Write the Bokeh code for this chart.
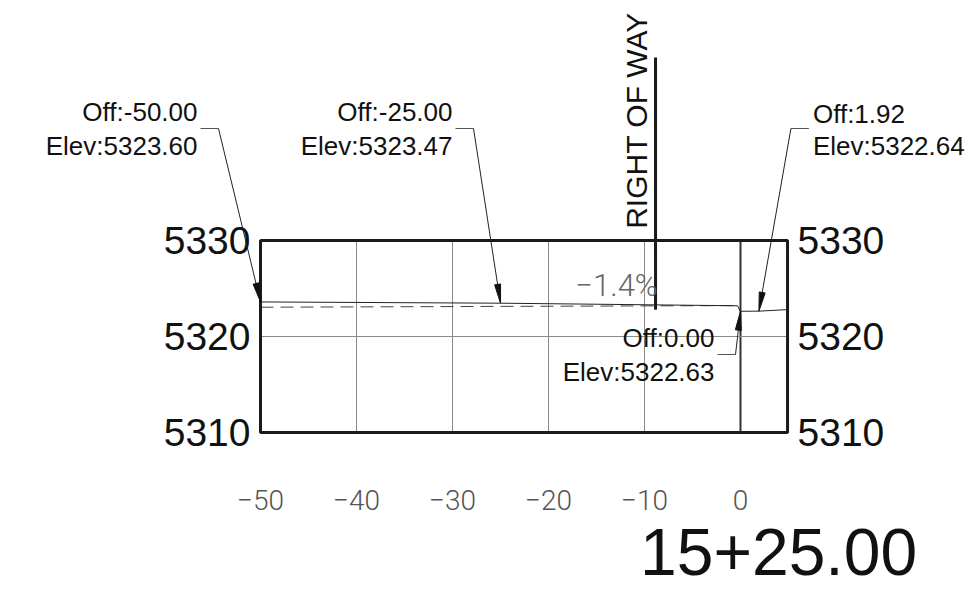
import math
from bokeh.plotting import figure
from bokeh.models import Range1d
from bokeh.embed import file_html
from bokeh.resources import INLINE
from bokeh.core.properties import value

# ---------------- data ----------------
x_ticks = [-50, -40, -30, -20, -10, 0]
x_tick_labels = ["\u221250", "\u221240", "\u221230", "\u221220", "\u221210", "0"]
y_ticks = [5310, 5320, 5330]
y_tick_labels = ["5310", "5320", "5330"]

ground_off = [-50.0, -25.0, -0.3, 0.0, 1.92, 4.9]
ground_elev = [5323.60, 5323.47, 5323.20, 5322.63, 5322.64, 5322.80]

design_off = [-50.0, -0.5, 0.0]
design_elev = [5323.05, 5323.22, 5322.63]

pt_off = [-50.00, -25.00, 1.92, 0.00]
pt_elev = [5323.60, 5323.47, 5322.64, 5322.63]
pt_off_text = ["Off:-50.00", "Off:-25.00", "Off:1.92", "Off:0.00"]
pt_elev_text = ["Elev:5323.60", "Elev:5323.47", "Elev:5322.64", "Elev:5322.63"]

row_off = -8.85
row_text = "RIGHT OF WAY"
grade_label = "\u22121.4%"
station_label = "15+25.00"

x_min, x_max = -50.0, 4.9
y_min, y_max = 5310.0, 5330.0

# ---------------- layout ----------------
PX = 9.6            # pixels per unit (both axes)
W, H = 968, 595


def px(n):
    return n / PX


x_start = x_min - px(260)
x_end = x_start + px(W)
y_end = y_max + px(240)
y_start = y_end - px(H)

p = figure(width=W, height=H, output_backend="svg", toolbar_location=None,
           x_range=Range1d(x_start, x_end), y_range=Range1d(y_start, y_end),
           min_border=0, outline_line_color=None)
p.axis.visible = False
p.grid.visible = False
p.background_fill_color = "white"
p.border_fill_color = "white"

SANS = value("Liberation Sans")
THIN = value("Roboto Light")

# grid lines
inner = [t for t in x_ticks if x_min < t < 0]
p.segment(x0=inner, x1=inner, y0=[y_min] * len(inner), y1=[y_max] * len(inner),
          line_color="#8a8a8a", line_width=1)
p.segment(x0=[0], x1=[0], y0=[y_min], y1=[y_max], line_color="#333333", line_width=2)
mid = [t for t in y_ticks if y_min < t < y_max]
p.segment(x0=[x_min] * len(mid), x1=[x_max] * len(mid), y0=mid, y1=mid,
          line_color="#8a8a8a", line_width=1)

# design (dashed) and ground (solid)
p.line(design_off, design_elev, line_color="#444444", line_width=1, line_dash="13 7")
p.line(ground_off, ground_elev, line_color="#222222", line_width=1)

# frame
p.quad(left=[x_min], right=[x_max], bottom=[y_min], top=[y_max],
       fill_color=None, line_color="#1a1a1a", line_width=3)

# right of way
row_ground = ground_elev[1] + (row_off - ground_off[1]) * (ground_elev[2] - ground_elev[1]) / (ground_off[2] - ground_off[1])
p.segment(x0=[row_off], x1=[row_off], y0=[row_ground - 0.5], y1=[y_max + px(183)],
          line_color="#1a1a1a", line_width=3)
p.text(x=[row_off - px(19)], y=[y_max + px(120)], text=[row_text], angle=math.pi / 2,
       text_align="center", text_baseline="middle", text_font=SANS,
       text_font_size="30px", text_color="#111111")

# grade label
p.text(x=[row_off - px(39)], y=[y_max - px(45)], text=[grade_label],
       text_align="center", text_baseline="middle", text_font=THIN,
       text_font_size="31px", text_color="#666666")

# tick labels
p.text(x=[x_min - px(10)] * len(y_ticks), y=y_ticks, text=y_tick_labels,
       text_align="right", text_baseline="middle", text_font=SANS,
       text_font_size="39px", text_color="#111111")
p.text(x=[x_max + px(10)] * len(y_ticks), y=y_ticks, text=y_tick_labels,
       text_align="left", text_baseline="middle", text_font=SANS,
       text_font_size="39px", text_color="#111111")
p.text(x=x_ticks, y=[y_min - px(67)] * len(x_ticks), text=x_tick_labels,
       text_align="center", text_baseline="middle", text_font=THIN,
       text_font_size="28px", text_color="#555555")

# station
p.text(x=[x_max - px(9)], y=[y_min - px(119)], text=[station_label],
       text_align="center", text_baseline="middle", text_font=SANS,
       text_font_size="66px", text_color="#111111")

# callouts
level_top = y_max + px(112)
level_bot = y_max - px(114)
callouts = [(-42, level_top, "left"), (-27, level_top, "left"),
            (32, level_top, "right"), (-5, level_bot, "left")]

lx, ly, hx, hy = [], [], [], []
ax, ay = [], []
tx_l, ty_l, tt_l = [], [], []
tx_r, ty_r, tt_r = [], [], []
for i, (dx, lev, side) in enumerate(callouts):
    tip = (pt_off[i], pt_elev[i])
    ex, ey = tip[0] + px(dx), lev
    sgn = -1 if side == "left" else 1
    hend = ex + sgn * px(18)
    hx.append([hend, ex]); hy.append([ey, ey])
    vx, vy = tip[0] - ex, tip[1] - ey
    d = math.hypot(vx, vy)
    ux, uy = vx / d, vy / d
    bx, by = tip[0] - ux * px(19), tip[1] - uy * px(19)
    lx.append([ex, bx]); ly.append([ey, by])
    nx, ny = -uy, ux
    ax.append([tip[0], bx + nx * px(3), bx - nx * px(3)])
    ay.append([tip[1], by + ny * px(3), by - ny * px(3)])
    if side == "left":
        tx_l += [hend - px(3)] * 2
        ty_l += [ey + px(17), ey - px(17)]
        tt_l += [pt_off_text[i], pt_elev_text[i]]
    else:
        tx_r += [hend + px(4)] * 2
        ty_r += [ey + px(15), ey - px(17)]
        tt_r += [pt_off_text[i], pt_elev_text[i]]

p.multi_line(hx, hy, line_color="#555555", line_width=1)
p.multi_line(lx, ly, line_color="#222222", line_width=1)
p.patches(ax, ay, fill_color="#111111", line_color="#111111", line_width=1)
p.text(x=tx_l, y=ty_l, text=tt_l, text_align="right", text_baseline="middle",
       text_font=SANS, text_font_size="26px", text_color="#111111")
p.text(x=tx_r, y=ty_r, text=tt_r, text_align="left", text_baseline="middle",
       text_font=SANS, text_font_size="26px", text_color="#111111")

open("out.html", "w").write(file_html(p, INLINE))
